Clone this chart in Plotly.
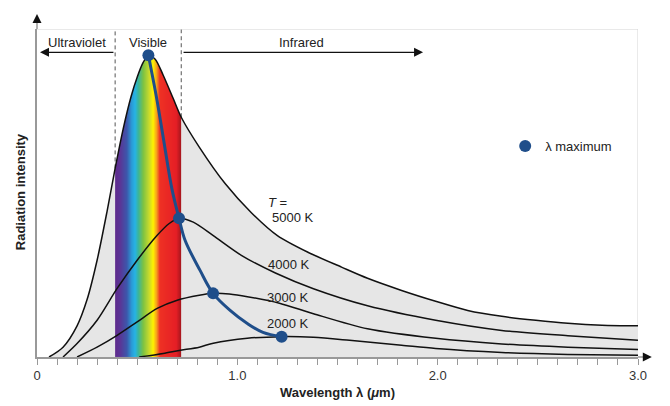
import numpy as np
import plotly.graph_objects as go

# Kurven (Wellenlaenge in um, Intensitaet in willkuerlichen Einheiten, 0..100)
wl_5000 = [0.06, 0.13, 0.20, 0.25, 0.30, 0.35, 0.39, 0.43, 0.47, 0.50, 0.53, 0.556,
           0.59, 0.63, 0.68, 0.72, 0.81, 0.94, 1.07, 1.20, 1.35, 1.52, 1.65,
           1.82, 1.99, 2.15, 2.32, 2.49, 2.65, 2.82, 3.0]
i_5000 = [0, 3.0, 9.5, 17.5, 29.5, 44.5, 57.5, 69.5, 79.5, 85.3, 89.8, 92.0,
          90.8, 85.9, 78.8, 73.1, 64.0, 52.8, 44.0, 37.0, 32.0, 27.4, 24.0,
          20.3, 17.0, 14.2, 12.4, 11.2, 10.3, 9.7, 9.5]

wl_4000 = [0.13, 0.20, 0.30, 0.40, 0.50, 0.60, 0.66, 0.709, 0.78, 0.88, 1.02, 1.19,
           1.38, 1.65, 1.99, 2.32, 2.65, 3.0]
i_4000 = [0, 4.1, 11.2, 20.9, 29.5, 37.1, 40.7, 42.3, 41.1, 37.0, 31.0, 25.6,
          20.8, 15.6, 11.2, 8.1, 6.5, 5.1]

wl_3000 = [0.20, 0.30, 0.40, 0.50, 0.60, 0.70, 0.81, 0.879, 0.96, 1.05, 1.21, 1.38,
           1.65, 1.99, 2.32, 2.65, 3.0]
i_3000 = [0, 3.0, 6.6, 10.7, 14.8, 17.3, 18.8, 19.4, 19.2, 18.4, 16.4, 13.2,
          8.6, 5.7, 4.0, 3.0, 2.3]

wl_2000 = [0.51, 0.63, 0.71, 0.81, 0.88, 1.05, 1.221, 1.38, 1.56, 1.82, 1.99, 2.32,
           2.65, 3.0]
i_2000 = [0, 1.1, 2.0, 3.0, 4.2, 5.7, 6.2, 6.0, 5.1, 3.6, 2.6, 1.4,
          0.8, 0.5]

# Verlauf der Maxima (Wien)
wl_wien = [0.556, 0.599, 0.639, 0.674, 0.709, 0.739, 0.814, 0.879, 0.964, 1.048, 1.128, 1.221]
i_wien = [92.0, 78.3, 63.6, 51.1, 42.3, 35.6, 26.4, 19.4, 14.2, 10.3, 7.5, 6.2]

wl_max = [0.556, 0.709, 0.879, 1.221]
i_max = [92.0, 42.3, 19.4, 6.2]

visible_band = [0.39, 0.72]

spectrum_colors = [
    [0.0, "#5f2a8c"], [0.075, "#5a3596"], [0.175, "#3d57ab"], [0.25, "#2a9ad6"],
    [0.30, "#26b3e5"], [0.35, "#3bb59a"], [0.425, "#7dc242"], [0.51, "#c5d92d"],
    [0.575, "#fff200"], [0.625, "#f7a21b"], [0.675, "#ee3124"], [0.925, "#e51e25"],
    [1.0, "#a3161d"],
]

FONT = "Liberation Sans, Arial, sans-serif"
BLUE = "#1f4e8a"

# Spektrum als Heatmap, oberhalb der 5000-K-Kurve ausgeblendet
lo, hi = visible_band
x_edges = np.linspace(lo, hi, 133)
x_mid = (x_edges[:-1] + x_edges[1:]) / 2
y_edges = np.linspace(0, 93, 373)
y_mid = (y_edges[:-1] + y_edges[1:]) / 2
top = np.interp(x_mid, wl_5000, i_5000)
t = (x_mid - lo) / (hi - lo)
z = [[float(t[j]) if y_mid[i] < top[j] else None for j in range(len(x_mid))]
     for i in range(len(y_mid))]

fig = go.Figure()

# grauer Hintergrund unter der 5000-K-Kurve
fig.add_trace(go.Scatter(
    x=wl_5000, y=i_5000, mode="lines", fill="tozeroy", fillcolor="#e6e6e6",
    line=dict(width=0, shape="spline", smoothing=0.8), showlegend=False, hoverinfo="skip"
))

fig.add_trace(go.Heatmap(
    x=x_edges, y=y_edges, z=z, colorscale=spectrum_colors, zmin=0, zmax=1,
    showscale=False, hoverinfo="skip", xaxis="x2", yaxis="y2"
))

for wl, inten in [(wl_5000, i_5000), (wl_4000, i_4000), (wl_3000, i_3000), (wl_2000, i_2000)]:
    fig.add_trace(go.Scatter(
        x=wl, y=inten, mode="lines",
        line=dict(color="#111111", width=1.5, shape="spline", smoothing=0.8),
        showlegend=False, xaxis="x2", yaxis="y2"
    ))

fig.add_trace(go.Scatter(
    x=wl_wien, y=i_wien, mode="lines", line=dict(color=BLUE, width=3, shape="spline"),
    showlegend=False, xaxis="x2", yaxis="y2"
))

fig.add_trace(go.Scatter(
    x=wl_max, y=i_max, mode="markers", marker=dict(color=BLUE, size=12),
    name="λ maximum", showlegend=True, xaxis="x2", yaxis="y2"
))

# gestrichelte Grenzen des sichtbaren Bereichs
shapes = []
for xb in visible_band:
    shapes.append(dict(type="line", xref="x", yref="y", x0=xb, x1=xb,
                       y0=float(np.interp(xb, wl_5000, i_5000)), y1=100,
                       line=dict(color="#555555", width=1, dash="4px,3px"), layer="below"))
# Rahmen oben und rechts
shapes.append(dict(type="line", xref="x", yref="y", x0=0, x1=3, y0=100, y1=100,
                   line=dict(color="#d4d4d4", width=1), layer="below"))
shapes.append(dict(type="line", xref="x", yref="y", x0=3, x1=3, y0=0, y1=100,
                   line=dict(color="#d4d4d4", width=1), layer="below"))
# Achsenverlaengerungen
shapes.append(dict(type="line", xref="paper", yref="paper", x0=0, x1=0, y0=1, y1=1.04,
                   line=dict(color="#999999", width=1.5)))
shapes.append(dict(type="line", xref="paper", yref="paper", x0=1, x1=1.018, y0=0, y1=0,
                   line=dict(color="#999999", width=1.5)))

annotations = [
    dict(x=0.2, y=95.9, text="Ultraviolet", showarrow=False),
    dict(x=0.554, y=95.9, text="Visible", showarrow=False),
    dict(x=1.32, y=95.9, text="Infrared", showarrow=False),
    dict(x=0.015, y=92.9, ax=0.389, ay=92.9, axref="x", ayref="y", text="", showarrow=True,
         arrowhead=2, arrowsize=1.5, arrowwidth=1.2, arrowcolor="#111111"),
    dict(x=1.927, y=92.9, ax=0.724, ay=92.9, axref="x", ayref="y", text="", showarrow=True,
         arrowhead=2, arrowsize=1.5, arrowwidth=1.2, arrowcolor="#111111"),
    dict(x=1.2, y=47.2, text="<i>T</i> =", showarrow=False),
    dict(x=1.276, y=42.6, text="5000 K", showarrow=False),
    dict(x=1.258, y=28.3, text="4000 K", showarrow=False),
    dict(x=1.253, y=18.2, text="3000 K", showarrow=False),
    dict(x=1.253, y=10.3, text="2000 K", showarrow=False),
    # Achsenpfeile
    dict(xref="paper", yref="paper", x=0, y=1.046, ax=0, ay=6, text="", showarrow=True,
         arrowhead=2, arrowsize=1.5, arrowwidth=1.2, arrowcolor="#111111"),
    dict(xref="paper", yref="paper", x=1.023, y=0, ax=-6, ay=0, text="", showarrow=True,
         arrowhead=2, arrowsize=1.5, arrowwidth=1.2, arrowcolor="#111111"),
    # Achsentitel
    dict(xref="paper", yref="paper", x=0.5, y=-0.107, text="<b>Wavelength λ (<i>μ</i>m)</b>",
         showarrow=False, yanchor="middle", font=dict(size=13)),
    dict(xref="paper", yref="paper", x=-0.028, y=0.503, text="<b>Radiation intensity</b>",
         textangle=-90, showarrow=False, xanchor="center", yanchor="middle",
         font=dict(size=13)),
]

# Seite hat 8 px Rand, daher Abbildung etwas kleiner
fig.update_layout(
    width=662, height=398, autosize=False,
    margin=dict(l=29, r=32, t=21, b=49),
    paper_bgcolor="white", plot_bgcolor="white",
    font=dict(family=FONT, size=13, color="#222222"),
    xaxis=dict(
        range=[0, 3], showgrid=False, zeroline=False,
        showline=True, linecolor="#999999", linewidth=1.5,
        tickvals=[0, 1, 2, 3], ticktext=["0", "1.0", "2.0", "3.0"],
        ticks="outside", ticklen=6, tickcolor="#999999", tickwidth=1,
        tickfont=dict(size=13, color="#333333"),
        minor=dict(dtick=0.1, ticks="outside", ticklen=6, tickcolor="#999999", tickwidth=1),
    ),
    yaxis=dict(
        range=[0, 100], showgrid=False, zeroline=False, showticklabels=False,
        showline=True, linecolor="#999999", linewidth=1.5, ticks="",
    ),
    xaxis2=dict(range=[0, 3], overlaying="x", anchor="y2", visible=False),
    yaxis2=dict(range=[0, 100], overlaying="y", anchor="x2", visible=False),
    shapes=shapes,
    annotations=annotations,
    legend=dict(x=0.779, y=0.643, xanchor="left", yanchor="middle",
                bgcolor="rgba(0,0,0,0)", font=dict(size=13)),
)

fig.write_html("out.html")
